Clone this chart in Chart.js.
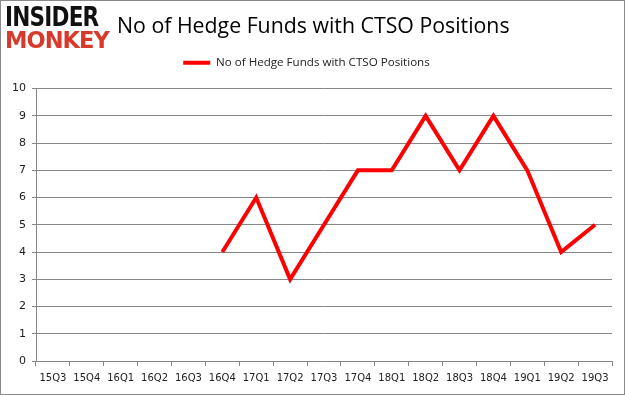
<!DOCTYPE html>
<html>
<head>
<meta charset="utf-8">
<script src="https://cdn.jsdelivr.net/npm/chart.js@4"></script>
<style>
  html, body { margin: 0; padding: 0; background: #fff; }
  #wrap { position: relative; width: 625px; height: 395px; box-sizing: border-box; border: 1px solid #8a8a8a; overflow: hidden; }
  #chart { position: absolute; left: 0; top: 0; }
  .logo { position: absolute; left: 4px; font-family: "DejaVu Sans", sans-serif; font-weight: bold; line-height: 1; transform-origin: 0 0; white-space: nowrap; }
  #logo1 { top: 2px; font-size: 27px; letter-spacing: -1px; color: #111; transform: scaleX(0.8); }
  #logo2 { top: 28px; font-size: 23px; letter-spacing: -1px; color: #d8392b; transform: scaleX(0.98); }
  #title { position: absolute; left: 116px; top: 9px; font-family: "Open Sans", sans-serif; font-size: 21.3px; color: #000; white-space: nowrap; }
</style>
</head>
<body>
<div id="wrap">
  <canvas id="chart" width="625" height="395"></canvas>
  <div class="logo" id="logo1">INSIDER</div>
  <div class="logo" id="logo2">MONKEY</div>
  <div id="title">No of Hedge Funds with CTSO Positions</div>
</div>
<script>
// Quartale und Anzahl Hedgefonds
const quarters = ["15Q3", "15Q4", "16Q1", "16Q2", "16Q3", "16Q4", "17Q1", "17Q2", "17Q3",
                  "17Q4", "18Q1", "18Q2", "18Q3", "18Q4", "19Q1", "19Q2", "19Q3"];
const hedgeFunds = [null, null, null, null, null, 4, 6, 3, 5, 7, 7, 9, 7, 9, 7, 4, 5];
const yTicks = [0, 1, 2, 3, 4, 5, 6, 7, 8, 9, 10];
const seriesName = "No of Hedge Funds with CTSO Positions";

const red = '#ff0000';
const gridGray = '#878787';

// etwas Abstand unter der Legende
const legendGap = {
    id: 'legendGap',
    afterInit(chart) {
        const lg = chart.legend;
        const origFit = lg.fit.bind(lg);
        lg.fit = function () { origFit(); this.height += 10; };
    }
};

new Chart(document.getElementById('chart').getContext('2d'), {
    type: 'line',
    data: {
        labels: quarters,
        datasets: [{
            label: seriesName,
            data: hedgeFunds,
            borderColor: red, backgroundColor: red,
            borderWidth: 4, pointRadius: 0, tension: 0, spanGaps: false
        }]
    },
    plugins: [legendGap],
    options: {
        responsive: false,
        animation: false,
        layout: { padding: { top: 36, right: 14, bottom: 4, left: 0 } },
        plugins: {
            legend: {
                labels: {
                    boxWidth: 27, boxHeight: 4, padding: 20,
                    color: '#222',
                    font: { family: '"Open Sans", sans-serif', size: 11.6 },
                    generateLabels: chart => Chart.defaults.plugins.legend.labels.generateLabels(chart)
                        .map(l => ({ ...l, lineWidth: 0 }))
                }
            },
            tooltip: { enabled: false }
        },
        scales: {
            x: {
                offset: true,
                grid: { offset: true, drawOnChartArea: false, drawTicks: true, tickLength: 5, color: gridGray },
                border: { color: gridGray },
                ticks: { color: '#222', maxRotation: 0, autoSkip: false, padding: 6,
                         font: { family: '"DejaVu Sans", sans-serif', size: 10 } },
                afterFit: s => { s.height = 31; }
            },
            y: {
                min: 0, max: 10,
                afterBuildTicks: s => { s.ticks = yTicks.map(v => ({ value: v })); },
                grid: { color: gridGray, tickLength: 4 },
                border: { color: gridGray },
                ticks: { color: '#222', padding: 6,
                         font: { family: '"DejaVu Sans", sans-serif', size: 11 } },
                afterFit: s => { s.width = 35; }
            }
        }
    }
});
</script>
</body>
</html>
